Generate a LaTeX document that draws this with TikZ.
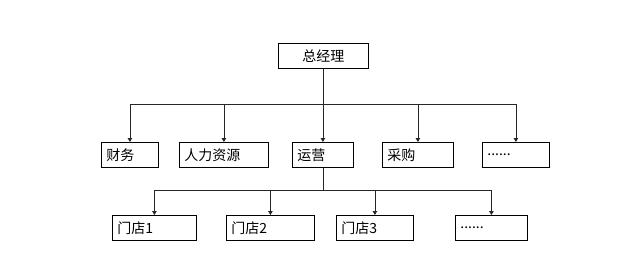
\documentclass[tikz,border=0pt]{standalone}
\usepackage{fontspec}
\newfontfamily\cjk{Noto Sans CJK SC}
\usetikzlibrary{arrows.meta}

\begin{document}
\begin{tikzpicture}[x=1pt,y=-1pt,
  box/.style={draw,thick,anchor=north west,minimum height=25pt,inner xsep=5pt,inner ysep=0pt,font=\cjk\fontsize{14}{16}\selectfont},
  lbox/.style={box,align=left,text width=#1},
  link/.style={draw=black!85,thick,-{Triangle[length=4pt,width=4.5pt]}}]
  \useasboundingbox (0,0) rectangle (640,277);
  \node [box,minimum width=90pt] (zjl) at (278,43) {总经理};
  \node [lbox=47pt] (cw) at (101,142) {财务};
  \node [lbox=79pt] (rl) at (179,142) {人力资源};
  \node [lbox=51pt] (yy) at (292,142) {运营};
  \node [lbox=61pt] (cg) at (382,142) {采购};
  \node [lbox=57pt] (qt) at (482,142) {......};
  \node [lbox=74pt] (md1) at (112,215) {门店1};
  \node [lbox=78pt] (md2) at (226,215) {门店2};
  \node [lbox=67pt] (md3) at (336,215) {门店3};
  \node [lbox=62pt] (mdq) at (455,215) {......};
  \coordinate (bus1) at (322,104);
  \coordinate (bus2) at (322,190);
  \foreach \n in {cw,rl,yy,cg,qt}
    \draw [link] (zjl.south) -- (zjl.south |- bus1) -| (\n.north);
  \foreach \n in {md1,md2,md3,mdq}
    \draw [link] (yy.south) -- (yy.south |- bus2) -| (\n.north);
\end{tikzpicture}
\end{document}
